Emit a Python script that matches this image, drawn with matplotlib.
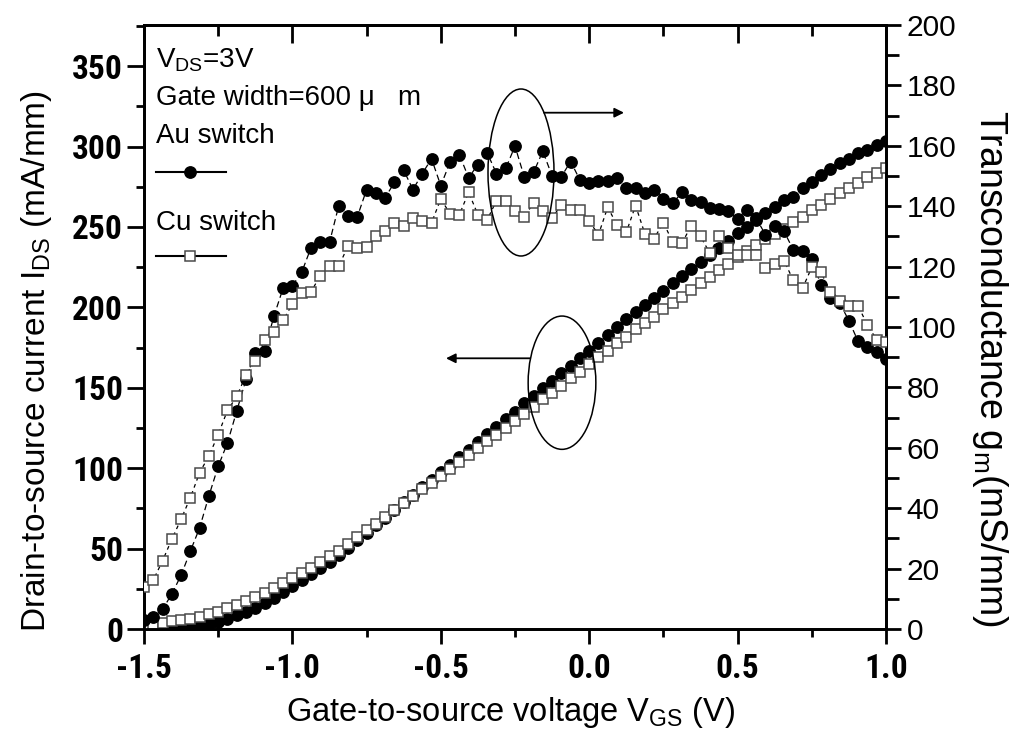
import matplotlib
matplotlib.use('Agg')
import matplotlib.pyplot as plt
from matplotlib.patches import Ellipse
from matplotlib.ticker import MultipleLocator
from matplotlib import font_manager
from matplotlib.font_manager import FontProperties
import numpy as np

REG = 'Liberation Sans'
plt.rcParams['mathtext.fontset'] = 'custom'
plt.rcParams['mathtext.rm'] = REG
plt.rcParams['mathtext.it'] = REG
plt.rcParams['font.family'] = [REG, 'DejaVu Sans']


def _w(f):
    w = f.weight
    if isinstance(w, str):
        w = font_manager.weight_dict.get(w, 400)
    return w


def find_condensed_bold():
    prefs = ['Liberation Sans Narrow', 'Arial Narrow', 'Roboto Condensed',
             'Open Sans Condensed', 'Noto Sans', 'Noto Sans Condensed',
             'Roboto', 'Open Sans', 'DejaVu Sans', 'Lato', 'Inter']
    best = None
    for f in font_manager.fontManager.ttflist:
        nm = f.name
        if any(k in nm for k in ('Mono', 'Serif', 'CJK', 'Display')):
            continue
        cond = ('Narrow' in nm or 'Condensed' in nm or 'Cond' in f.fname
                or f.stretch in ('condensed', 'semi-condensed', 'extra-condensed'))
        if not cond or f.style != 'normal' or _w(f) < 600:
            continue
        fam = nm
        rank = prefs.index(fam) if fam in prefs else len(prefs)
        sc = (rank, abs(_w(f) - 700))
        if best is None or sc < best[0]:
            best = (sc, f.fname)
    return best[1] if best else None


COND_BOLD = find_condensed_bold()

# ---------------- data ----------------
vgs = np.linspace(-1.5, 1.0, 81)

ids_au = [0, 0, 0, 0.2, 0.5, 1.0,
          1.9, 3.1, 4.6, 6.2, 8.7, 10.8, 13.3, 16.4,
          19.5, 23.0, 26.5, 30.2, 34.0, 37.8, 41.7,
          46.0, 50.6, 55.2, 59.9, 64.6, 69.3, 74.0, 78.7, 83.4, 88.1,
          92.8, 97.5, 102.2, 106.9, 111.6, 116.3, 121.0, 125.7, 130.4, 135.2,
          140.4, 144.9, 149.7, 154.2, 159.0, 163.8, 168.7, 173.1, 178.1, 182.8,
          187.6, 192.6, 197.0, 201.5, 206.0, 210.4, 215.0, 219.5, 223.9, 228.4,
          232.6, 236.8, 241.5, 246.1,
          249.8, 254.5, 258.5, 262.2, 266.8, 268.9, 274.0, 278.2, 282.3, 285.9,
          289.6, 292.1, 295.8, 297.9, 301.0, 303.7]

ids_cu = [2.0, 3.1, 4.0, 5.0, 5.6, 6.2, 7.7, 9.1, 10.8, 12.9, 14.9, 17.4, 19.7, 22.4,
          25.2, 28.4, 31.5, 34.8, 38.2, 41.6, 45.1,
          48.7, 52.9, 57.1, 61.4, 65.6, 69.9, 74.1, 78.4, 82.6, 86.9,
          91.1, 95.4, 99.6, 103.9, 108.1, 112.4, 116.6, 120.9, 125.1, 129.4,
          133.7, 137.9, 142.8, 147.0, 151.3, 155.9, 160.0, 164.6, 169.0, 173.1,
          177.7, 181.8, 186.4, 190.5, 194.2, 198.8, 202.5, 206.7, 210.8, 215.0,
          219.1, 223.3, 227.0, 231.5,
          235.3, 238.9, 242.3, 245.6, 248.5, 253.3, 256.4, 260.6, 263.7, 267.2,
          271.0, 274.0, 277.6, 280.9, 283.8, 286.5]

gm_au = [3.0, 3.9, 6.5, 11.6, 17.8, 25.8, 33.5, 44.1, 53.9, 61.6,
         72.2, 82.7, 91.5, 92.2, 103.5, 112.9, 113.7, 118.1, 126.2, 128.0,
         128.0, 140.2, 136.7, 136.5, 145.5, 144.4, 142.8, 147.9, 151.9, 145.5,
         150.8, 155.7, 146.8, 154.6, 157.1, 149.4, 153.8, 157.7, 150.8, 152.5,
         159.9, 149.7, 151.2, 158.2, 150.0, 149.8, 154.8, 148.7, 147.8, 148.2,
         148.2, 149.4, 145.9, 145.9, 144.4, 145.5, 142.4, 140.9, 144.6, 142.1,
         141.5, 139.3, 139.2, 138.3, 135.9, 138.9, 136.0, 130.6, 133.4, 131.7,
         125.6, 125.1, 122.5, 113.8, 109.6, 108.0, 102.1, 95.2, 93.4, 91.6,
         89.4]

gm_cu = [14.0, 16.2, 22.6, 29.7, 36.4, 43.5, 51.8, 57.3, 64.4, 72.4,
         77.0, 84.2, 88.8, 95.8, 98.5, 102.2, 107.6, 111.4, 111.6, 117.0,
         120.2, 120.2, 126.8, 126.0, 126.6, 130.0, 131.7, 134.3, 133.5, 136.1,
         135.0, 134.5, 142.4, 137.5, 137.2, 144.6, 137.2, 135.5, 141.8, 141.8,
         138.3, 136.4, 141.1, 138.3, 136.1, 140.5, 138.9, 138.9, 135.0, 130.6,
         139.7, 133.7, 131.4, 140.2, 130.9, 129.3, 134.6, 128.1, 127.7, 133.6,
         130.0, 124.5, 130.0, 126.2, 124.0, 124.0, 124.0, 119.4, 120.8, 122.0,
         115.5, 112.8, 119.8, 118.1, 111.5, 108.5, 107.1, 107.0, 100.6, 95.8,
         94.9]

left_ticks = [0, 50, 100, 150, 200, 250, 300, 350]
right_ticks = [0, 20, 40, 60, 80, 100, 120, 140, 160, 180, 200]
x_ticks = [-1.5, -1.0, -0.5, 0.0, 0.5, 1.0]
x_ticklabels = ['-1.5', '-1.0', '-0.5', '0.0', '0.5', '1.0']

# ---------------- figure ----------------
W, H = 1014, 756
fig = plt.figure(figsize=(W / 100, H / 100), dpi=100)
L, R, T, B = 144, 886, 25, 629
ax = fig.add_axes([L / W, 1 - B / H, (R - L) / W, (B - T) / H])
ax2 = ax.twinx()

au_kw = dict(marker='o', ms=8.2, mfc='black', mec='black', color='black',
             lw=0.9, ls=(0, (5, 3)))
cu_kw = dict(marker='s', ms=7.6, mfc='white', mec='#4a4a4a', mew=1.1,
             color='black', lw=0.9, ls=(0, (3, 3)))

ax.plot(vgs, ids_au, **au_kw, zorder=3)
ax.plot(vgs, ids_cu, **cu_kw, zorder=4)
ax2.plot(vgs, gm_au, **au_kw, zorder=3)
ax2.plot(vgs, gm_cu, **cu_kw, zorder=4)

ax.set_xlim(-1.5, 1.0)
ax.set_ylim(0, 375.6)
ax2.set_ylim(0, 200)

for a in (ax, ax2):
    for s in a.spines.values():
        s.set_linewidth(2.0)

ax.set_xticks(x_ticks)
ax.set_xticklabels(x_ticklabels)
ax.xaxis.set_minor_locator(MultipleLocator(0.25))
ax.set_yticks(left_ticks)
ax.set_yticklabels([str(v) for v in left_ticks])
ax.yaxis.set_minor_locator(MultipleLocator(25))
ax2.set_yticks(right_ticks)
ax2.yaxis.set_minor_locator(MultipleLocator(10))

ax.tick_params(axis='x', which='major', direction='out', length=11, width=2,
               top=False, pad=6)
ax.tick_params(axis='x', which='minor', direction='out', length=6, width=2, top=False)
ax.tick_params(axis='y', which='major', direction='out', length=12, width=2, pad=3)
ax.tick_params(axis='y', which='minor', direction='out', length=6, width=2)
ax2.tick_params(axis='y', which='major', direction='out', length=11, width=2,
                labelsize=21.5, pad=4)
ax2.tick_params(axis='y', which='minor', direction='out', length=9, width=2)

if COND_BOLD:
    tick_fp = FontProperties(fname=COND_BOLD, size=24)
else:
    tick_fp = FontProperties(family=REG, weight='bold', size=21)
for lab in ax.get_xticklabels() + ax.get_yticklabels():
    lab.set_fontproperties(tick_fp)
for lab in ax2.get_yticklabels():
    lab.set_family([REG, 'DejaVu Sans'])

# top ticks pointing inward
secx = ax.secondary_xaxis('top')
secx.set_xticks(x_ticks)
secx.xaxis.set_minor_locator(MultipleLocator(0.25))
secx.tick_params(axis='x', which='major', direction='in', length=13, width=2, labeltop=False)
secx.tick_params(axis='x', which='minor', direction='in', length=8, width=2)
secx.spines['top'].set_linewidth(2.0)


# axis labels
def ftxt(px, py, s, **kw):
    fig.text(px / W, 1 - py / H, s, **kw)


ftxt(511, 712, r'Gate-to-source voltage V$_{\rm GS}$ (V)', fontsize=23.5,
     ha='center', va='center')
ftxt(37, 361, r'Drain-to-source current I$_{\rm DS}$ (mA/mm)', fontsize=24,
     ha='center', va='center', rotation=90)
ftxt(990, 368, r'Transconductance g$_{\rm m}$(mS/mm)', fontsize=27,
     ha='center', va='center', rotation=270)


# in-plot legend texts
def afx(px):
    return (px - L) / (R - L)


def afy(py):
    return (B - py) / (B - T)


def atxt(px, py, s, **kw):
    ax.text(afx(px), afy(py), s, transform=ax.transAxes, **kw)


atxt(156, 68, r'V$_{\rm DS}$=3V', fontsize=20, ha='left', va='baseline')
atxt(156, 105, 'Gate width=600 μ   m', fontsize=20, ha='left', va='baseline')
atxt(156, 143, 'Au switch', fontsize=20, ha='left', va='baseline')
atxt(156, 230, 'Cu switch', fontsize=20, ha='left', va='baseline')


def leg_line(py, kw):
    xs = [afx(156), afx(190), afx(226)]
    yy = afy(py)
    ax.plot(xs, [yy] * 3, transform=ax.transAxes, color='black', lw=1.5, ls='-',
            marker=None, zorder=5, clip_on=False)
    k = dict(kw)
    k.pop('ls'); k.pop('lw'); k.pop('color')
    ax.plot([xs[1]], [yy], transform=ax.transAxes, ls='none', zorder=6, **k)


leg_line(172, au_kw)
leg_line(256, cu_kw)

# ellipses and arrows
e1 = Ellipse((afx(521), afy(172.5)), 66 / (R - L), 167 / (B - T), transform=ax2.transAxes,
             fill=False, edgecolor='black', lw=1.1, zorder=10)
ax2.add_patch(e1)
e2 = Ellipse((afx(562), afy(382.7)), 67.7 / (R - L), 133.3 / (B - T), transform=ax2.transAxes,
             fill=False, edgecolor='black', lw=1.1, zorder=10)
ax2.add_patch(e2)

ax2.annotate('', xy=(afx(624), afy(112.7)), xytext=(afx(544), afy(112.7)),
             xycoords='axes fraction', textcoords='axes fraction',
             arrowprops=dict(arrowstyle='-|>', color='black', lw=1.3,
                             mutation_scale=14, shrinkA=0, shrinkB=0))
ax2.annotate('', xy=(afx(446), afy(358.3)), xytext=(afx(530), afy(358.3)),
             xycoords='axes fraction', textcoords='axes fraction',
             arrowprops=dict(arrowstyle='-|>', color='black', lw=1.3,
                             mutation_scale=14, shrinkA=0, shrinkB=0))

fig.savefig('out.png', dpi=100)
